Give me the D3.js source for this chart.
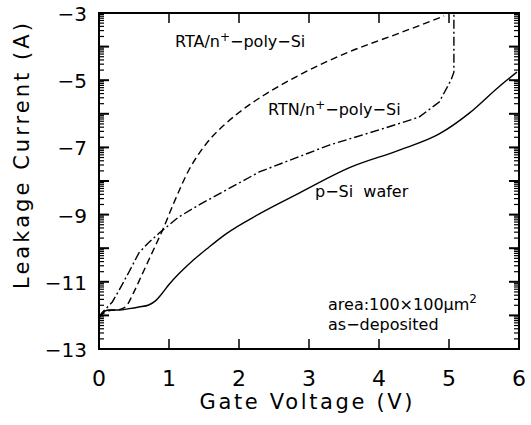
<!DOCTYPE html>
<html><head><meta charset="utf-8">
<script src="https://cdn.jsdelivr.net/npm/d3@7"></script>
<style>
body{margin:0;background:#fff;}
text{font-family:"DejaVu Sans",sans-serif;fill:#000;}
</style></head><body>
<svg id="c" width="531" height="425"></svg>
<script>
// Data (x: gate voltage V, y: log10 leakage current A)
const rtaX = [0.00, 0.14, 0.30, 0.39, 0.50, 0.60, 0.70, 0.80, 0.90, 1.07, 1.29, 1.45, 1.60, 1.80, 2.00, 2.36, 2.86, 3.57, 4.29, 4.93];
const rtaY = [-12.05, -11.86, -11.82, -11.72, -11.30, -10.85, -10.40, -9.95, -9.50, -8.65, -7.65, -7.12, -6.72, -6.31, -5.96, -5.44, -4.85, -4.16, -3.60, -3.09];

const rtnX = [0.00, 0.04, 0.19, 0.29, 0.43, 0.57, 0.70, 0.86, 1.14, 1.43, 2.29, 3.29, 4.00, 4.57, 4.86, 5.03, 5.07, 5.07];
const rtnY = [-12.05, -11.93, -11.60, -11.24, -10.70, -10.14, -9.85, -9.55, -9.07, -8.71, -7.73, -6.93, -6.48, -6.10, -5.65, -4.99, -4.76, -3.00];

const pSiX = [0.00, 0.04, 0.14, 0.29, 0.43, 0.57, 0.71, 0.81, 0.90, 1.00, 1.14, 1.29, 1.57, 1.81, 2.29, 2.86, 3.57, 4.29, 4.86, 5.29, 5.71, 5.97];
const pSiY = [-12.08, -11.95, -11.84, -11.84, -11.80, -11.75, -11.69, -11.56, -11.35, -11.08, -10.76, -10.46, -9.97, -9.58, -8.98, -8.36, -7.61, -7.08, -6.60, -5.98, -5.20, -4.76];

const xTicks = [0, 1, 2, 3, 4, 5, 6];
const yTicks = [-3, -5, -7, -9, -11, -13];
const seriesLabels = ["RTA/n", "RTN/n", "p\u2212Si  wafer"];

const svg = d3.select("#c");
const L = 99, R = 519, T = 13, B = 349;
const x = d3.scaleLinear().domain([0, 6]).range([L, R]);
const y = d3.scaleLinear().domain([-13, -3]).range([B, T]);

// minor log ticks
const minor = [];
for (let n = -13; n < -3; n++) for (let k = 2; k <= 9; k++) minor.push(n + Math.log10(k));
const majorY = d3.range(-13, -2);

const g = svg.append("g");
[[L, 1], [R, -1]].forEach(([px, dir]) => {
  g.selectAll(null).data(minor).enter().append("line")
    .attr("x1", px).attr("x2", px + dir * 5)
    .attr("y1", d => y(d)).attr("y2", d => y(d))
    .attr("stroke", "#000").attr("stroke-width", 1.2);
  g.selectAll(null).data(majorY).enter().append("line")
    .attr("x1", px).attr("x2", px + dir * 10)
    .attr("y1", d => y(d)).attr("y2", d => y(d))
    .attr("stroke", "#000").attr("stroke-width", 2);
});
[[B, -1], [T, 1]].forEach(([py, dir]) => {
  g.selectAll(null).data(d3.range(1, 6)).enter().append("line")
    .attr("x1", d => x(d)).attr("x2", d => x(d))
    .attr("y1", py).attr("y2", py + dir * 10)
    .attr("stroke", "#000").attr("stroke-width", 1.5);
});
g.append("rect").attr("x", L).attr("y", T).attr("width", R - L).attr("height", B - T)
  .attr("fill", "none").attr("stroke", "#000").attr("stroke-width", 2);

// tick labels
svg.selectAll(null).data(xTicks).enter().append("text")
  .attr("x", d => x(d)).attr("y", 386).attr("text-anchor", "middle")
  .attr("font-size", 22).text(d => d);
svg.selectAll(null).data(yTicks).enter().append("text")
  .attr("x", 87).attr("y", d => y(d) + 8).attr("text-anchor", "end")
  .attr("font-size", 20).text(d => "\u2212" + Math.abs(d));

// axis titles
svg.append("text").attr("x", 306).attr("y", 409).attr("text-anchor", "middle")
  .attr("font-size", 21).attr("textLength", 213).attr("lengthAdjust", "spacing")
  .text("Gate Voltage (V)");
svg.append("text").attr("transform", "translate(29,156) rotate(-90)")
  .attr("text-anchor", "middle").attr("font-size", 21)
  .attr("textLength", 266).attr("lengthAdjust", "spacing")
  .text("Leakage Current (A)");

// curves
const line = d3.line().x(d => x(d[0])).y(d => y(d[1])).curve(d3.curveMonotoneX);
const lineC = d3.line().x(d => x(d[0])).y(d => y(d[1])).curve(d3.curveLinear);
const zip = (a, b) => a.map((v, i) => [v, b[i]]);
svg.append("path").attr("d", line(zip(rtaX, rtaY))).attr("fill", "none")
  .attr("stroke", "#000").attr("stroke-width", 1.4).attr("stroke-dasharray", "7,4");
svg.append("path").attr("d", lineC(zip(rtnX, rtnY))).attr("fill", "none")
  .attr("stroke", "#000").attr("stroke-width", 1.4).attr("stroke-dasharray", "9,3,2,3");
svg.append("path").attr("d", line(zip(pSiX, pSiY))).attr("fill", "none")
  .attr("stroke", "#000").attr("stroke-width", 1.4);

// labels
function polyLabel(txt, px, py) {
  const t = svg.append("text").attr("x", px).attr("y", py).attr("font-size", 16);
  t.append("tspan").text(txt);
  t.append("tspan").attr("dy", -6).attr("font-size", 12).text("+");
  t.append("tspan").attr("dy", 6).text("\u2212poly\u2212Si");
  return t;
}
polyLabel(seriesLabels[0], 175, 47);
polyLabel(seriesLabels[1], 268, 115);
svg.append("text").attr("x", 315).attr("y", 197).attr("font-size", 16)
  .style("white-space", "pre").text(seriesLabels[2]);

const a = svg.append("text").attr("x", 328).attr("y", 310).attr("font-size", 16);
a.append("tspan").text("area:100\u00d7100\u03bcm");
a.append("tspan").attr("dy", -7).attr("font-size", 12).text("2");
svg.append("text").attr("x", 328).attr("y", 330).attr("font-size", 16).text("as\u2212deposited");
</script>
</body></html>
